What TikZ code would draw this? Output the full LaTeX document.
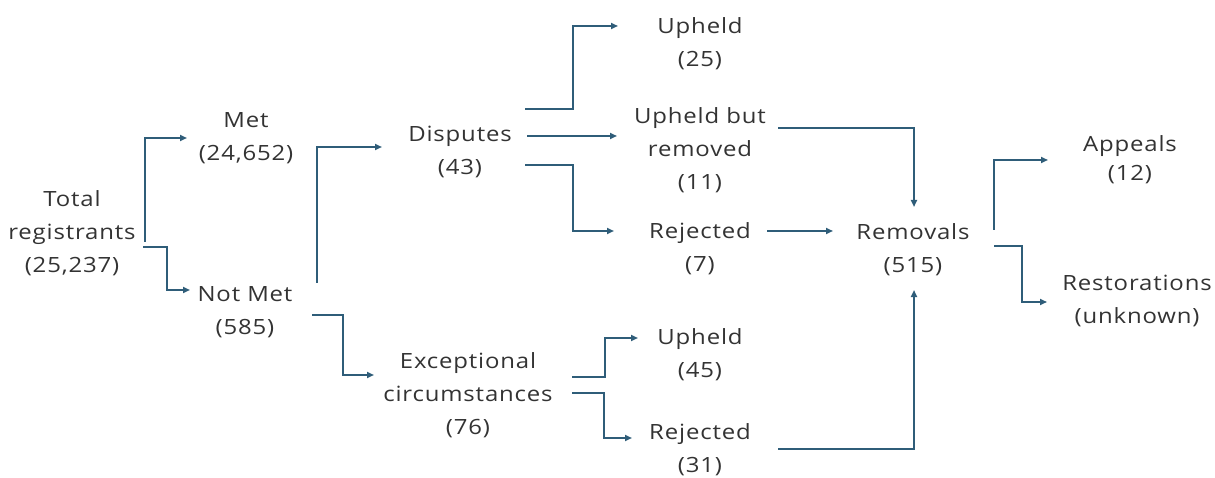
\documentclass[tikz,border=0pt]{standalone}
\usepackage{fontspec}
\setmainfont{Open Sans}[LetterSpace=4, FakeStretch=1.14]
\usetikzlibrary{arrows.meta}
\definecolor{flowline}{HTML}{2F5D79}
\definecolor{flowtext}{HTML}{333333}
\begin{document}
\begin{tikzpicture}[x=1pt, y=-1pt,
  lbl/.style={align=center, inner sep=0pt, text=flowtext,
    font=\fontsize{21}{33}\selectfont},
  conn/.style={draw=flowline, line width=1.8pt, line join=miter,
    -{Triangle[length=7pt, width=6pt]}}]
\useasboundingbox (0,0) rectangle (1215,478);

% stages
\node[lbl] (tot)  at (72,233)   {Total\\registrants\\(25,237)};
\node[lbl] (met)  at (246,138)  {Met\\(24,652)};
\node[lbl] (nmet) at (245,312)  {Not Met\\(585)};
\node[lbl] (disp) at (460,152)  {Disputes\\(43)};
\node[lbl] (exc)  at (468,395)  {Exceptional\\circumstances\\(76)};
\node[lbl] (up1)  at (700,44)   {Upheld\\(25)};
\node[lbl] (ubr)  at (700,150)  {Upheld but\\removed\\(11)};
\node[lbl] (rej1) at (700,249)  {Rejected\\(7)};
\node[lbl] (up2)  at (700,355)  {Upheld\\(45)};
\node[lbl] (rej2) at (700,450)  {Rejected\\(31)};
\node[lbl] (rem)  at (913,250)  {Removals\\(515)};
\node[lbl, font=\fontsize{21}{29}\selectfont] (app) at (1130,160) {Appeals\\(12)};
\node[lbl] (rst)  at (1137,301) {Restorations\\(unknown)};

% connector end points
\coordinate (totA) at (145,242);  \coordinate (metIn)  at (187,138);
\coordinate (totB) at (143,247);  \coordinate (nmetIn) at (190,290);
\coordinate (nmA)  at (317,283);  \coordinate (dispIn) at (382,147);
\coordinate (nmB)  at (312,315);  \coordinate (excIn)  at (374,375);
\coordinate (dA)   at (525,109);  \coordinate (up1In)  at (618,26);
\coordinate (dB)   at (527,136);  \coordinate (ubrIn)  at (617,136);
\coordinate (dC)   at (525,165);  \coordinate (rej1In) at (614,231);
\coordinate (eA)   at (572,377);  \coordinate (up2In)  at (638,338);
\coordinate (eB)   at (572,393);  \coordinate (rej2In) at (632,438);
\coordinate (ubrOut)  at (778,128); \coordinate (remTop) at (914,207);
\coordinate (rej1Out) at (767,231); \coordinate (remW)   at (833,231);
\coordinate (rej2Out) at (778,449); \coordinate (remBot) at (914,290);
\coordinate (rA) at (994,230);    \coordinate (appIn) at (1048,160);
\coordinate (rB) at (994,246);    \coordinate (rstIn) at (1047,302);

% first split
\draw[conn] (totA) |- (metIn);
\draw[conn] (totB) -- (167,247) |- (nmetIn);
% not met
\draw[conn] (nmA) |- (dispIn);
\draw[conn] (nmB) -- (343,315) |- (excIn);
% disputes
\draw[conn] (dA) -- (573,109) |- (up1In);
\draw[conn] (dB) -- (ubrIn);
\draw[conn] (dC) -- (573,165) |- (rej1In);
% exceptional circumstances
\draw[conn] (eA) -- (605,377) |- (up2In);
\draw[conn] (eB) -- (604,393) |- (rej2In);
% into removals
\draw[conn] (ubrOut) -| (remTop);
\draw[conn] (rej1Out) -- (remW);
\draw[conn] (rej2Out) -| (remBot);
% after removal
\draw[conn] (rA) |- (appIn);
\draw[conn] (rB) -- (1022,246) |- (rstIn);
\end{tikzpicture}
\end{document}
